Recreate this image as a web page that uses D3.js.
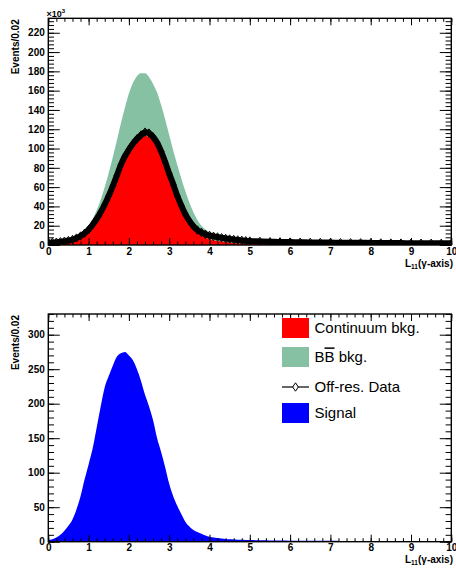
<!DOCTYPE html>
<html>
<head>
<meta charset="utf-8">
<script src="https://cdn.jsdelivr.net/npm/d3@7/dist/d3.min.js"></script>
<style>
body { margin: 0; background: #fff; }
text { font-family: "Liberation Sans", Arial, sans-serif; }
</style>
</head>
<body>
<svg id="chart" width="456" height="569"></svg>
<script>
// bin positions of the L11 variable (sampled from the plot)
var xBins = [0,0.1,0.2,0.3,0.4,0.5,0.6,0.7,0.8,0.9,
  1.0,1.1,1.2,1.3,1.4,1.5,1.6,1.7,1.8,1.9,
  2.0,2.1,2.2,2.3,2.4,2.5,2.6,2.7,2.8,2.9,
  3.0,3.1,3.2,3.3,3.4,3.5,3.6,3.7,3.8,3.9,
  4.0,4.1,4.2,4.3,4.4,4.5,4.6,4.7,4.8,4.9,
  5.0,5.25,5.5,5.75,6.0,6.25,6.5,6.75,7.0,7.25,
  7.5,7.75,8.0,8.25,8.5,8.75,9.0,9.25,9.5,9.75,10.0];

// top panel, in units of 10^3 events / 0.02
var bbStack = [2.5,2.7,3.0,3.4,4.0,4.8,6.0,7.8,10.5,14.5,
  20,27,36,47,60,75,91,108,126,142,
  157,168,175,178,178,174,167,158,145,130,
  114,98,83,69,56,44,34,26,20,16,
  13,11,9.5,8.3,7.3,6.5,5.9,5.4,5.0,4.6,
  4.3,3.8,3.4,3.1,2.9,2.75,2.6,2.5,2.4,2.3,
  2.2,2.15,2.1,2.05,2.0,1.95,1.9,1.85,1.8,1.75,1.7];
var continuum = [0.5,0.6,0.8,1.0,1.4,2.0,3.0,4.5,6.5,9.5,
  13.5,18.5,24.5,31.5,39.5,48.5,58.5,69,80,89,
  96,102,107,111,113,112,108.5,102,93,82,
  70,59,47.5,37.5,29,22,16.5,12.5,9.5,7.5,
  6,5,4.2,3.5,3,2.5,2.1,1.8,1.5,1.3,
  1.1,0.9,0.7,0.6,0.5,0.45,0.4,0.35,0.3,0.28,
  0.25,0.22,0.2,0.2,0.2,0.18,0.15,0.13,0.1,0.1,0.1];
var offRes = [2.4,2.6,2.9,3.3,3.9,4.6,5.6,7.2,9.3,12.2,
  16,21,27,34,42,51,61,72,83,92,
  99,105,110,114,117,116,112,106,97,86,
  74,63,51,41,32,25,19.5,15.5,13,11,
  10,9,8.3,7.5,6.8,6.2,5.7,5.2,4.8,4.4,
  4.1,3.7,3.4,3.2,3.0,2.85,2.7,2.6,2.5,2.4,
  2.3,2.25,2.2,2.1,2.0,1.95,1.9,1.85,1.8,1.75,1.7];

// bottom panel, events / 0.02
var signal = [2,3.5,6,10,16,23,32,47,66,90,
  112,135,165,196,224,240,255,268,273,275,
  270,263,250,233,213,196,176,150,130,108,
  84,66,52,40,29,22,17,14,11.5,9,
  7.3,6.2,5.3,4.6,4.0,3.6,3.3,3.0,2.8,2.6,
  2.4,2.1,1.8,1.65,1.5,1.4,1.3,1.25,1.2,1.15,
  1.1,1.05,1.0,0.95,0.9,0.85,0.8,0.75,0.7,0.65,0.6];

var xTicks = [0,1,2,3,4,5,6,7,8,9,10];
var topYTicks = [0,20,40,60,80,100,120,140,160,180,200,220];
var botYTicks = [0,50,100,150,200,250,300];
var legendLabels = ["Continuum bkg.", "BB bkg.", "Off-res. Data", "Signal"];

var colRed = "#ff0000", colGreen = "#86c1a4", colBlue = "#0000ff";
var font = '"Liberation Sans", Arial, sans-serif';

var svg = d3.select("#chart");

var x = d3.scaleLinear().domain([0, 10]).range([48.3, 451.3]);

function drawPanel(id, top, bottom, ymax, yMajor, yMinorStep) {
    var y = d3.scaleLinear().domain([0, ymax]).range([bottom, top]);
    var g = svg.append("g").attr("id", id);

    g.append("clipPath").attr("id", "clip_" + id)
      .append("rect")
      .attr("x", x(0)).attr("y", top)
      .attr("width", x(10) - x(0)).attr("height", bottom - top);

    var plot = g.append("g").attr("clip-path", "url(#clip_" + id + ")");

    // ticks on all four sides, pointing inward
    var xMinor = d3.range(0, 10.001, 0.2);
    var yMinor = d3.range(0, ymax + 0.001, yMinorStep);

    g.append("g").attr("transform", "translate(0," + bottom + ")")
      .call(d3.axisBottom(x).tickValues(xMinor).tickSize(-3.5).tickFormat(""));
    var xa = g.append("g").attr("transform", "translate(0," + bottom + ")")
      .call(d3.axisBottom(x).tickValues(xTicks).tickSize(-7).tickPadding(2.4).tickFormat(d3.format("d")));
    g.append("g").attr("transform", "translate(0," + top + ")")
      .call(d3.axisTop(x).tickValues(xMinor).tickSize(-3.5).tickFormat(""));
    g.append("g").attr("transform", "translate(0," + top + ")")
      .call(d3.axisTop(x).tickValues(xTicks).tickSize(-7).tickFormat(""));

    g.append("g").attr("transform", "translate(" + x(0) + ",0)")
      .call(d3.axisLeft(y).tickValues(yMinor).tickSize(-5.7).tickFormat(""));
    var ya = g.append("g").attr("transform", "translate(" + x(0) + ",0)")
      .call(d3.axisLeft(y).tickValues(yMajor).tickSize(-11.5).tickPadding(3.5).tickFormat(d3.format("d")));
    g.append("g").attr("transform", "translate(" + x(10) + ",0)")
      .call(d3.axisRight(y).tickValues(yMinor).tickSize(-5.7).tickFormat(""));
    g.append("g").attr("transform", "translate(" + x(10) + ",0)")
      .call(d3.axisRight(y).tickValues(yMajor).tickSize(-11.5).tickFormat(""));

    g.selectAll(".domain").remove();
    g.selectAll(".tick line").attr("stroke", "#000").attr("stroke-width", 1);
    [xa, ya].forEach(function(a) {
        a.selectAll("text")
          .attr("fill", "#000")
          .attr("font-family", font)
          .attr("font-size", 10)
          .attr("font-weight", "bold");
    });

    // frame
    g.append("rect")
      .attr("x", x(0)).attr("y", top)
      .attr("width", x(10) - x(0)).attr("height", bottom - top)
      .attr("fill", "none").attr("stroke", "#000").attr("stroke-width", 1.4);

    // axis titles
    g.append("text")
      .attr("transform", "translate(19," + (top + 1) + ") rotate(-90)")
      .attr("text-anchor", "end")
      .attr("font-size", 10).attr("font-weight", "bold")
      .text("Events/0.02");

    var xt = g.append("text")
      .attr("x", 453).attr("y", bottom + 21.5)
      .attr("text-anchor", "end")
      .attr("font-size", 10).attr("font-weight", "bold");
    xt.append("tspan").text("L");
    xt.append("tspan").attr("font-size", 6.5).attr("dy", 2).text("11");
    xt.append("tspan").attr("dy", -2).text("(\u03b3-axis)");

    return {g: g, plot: plot, y: y};
}

// ---- top panel: backgrounds + off-resonance data
var topP = drawPanel("top", 18.3, 245, 235, topYTicks, 4);

function areaFor(y, vals) {
    return d3.area()
      .curve(d3.curveMonotoneX)
      .x(function(d, i) { return x(xBins[i]); })
      .y0(y(0))
      .y1(function(d, i) { return y(vals[i]); });
}

topP.plot.insert("path", ":first-child")
  .datum(bbStack)
  .attr("d", areaFor(topP.y, bbStack))
  .attr("fill", colGreen);
topP.plot.append("path")
  .datum(continuum)
  .attr("d", areaFor(topP.y, continuum))
  .attr("fill", colRed);

var dataLine = d3.line()
  .curve(d3.curveMonotoneX)
  .x(function(d, i) { return x(xBins[i]); })
  .y(function(d) { return topP.y(d); });

topP.plot.append("path")
  .datum(offRes)
  .attr("d", dataLine)
  .attr("fill", "none")
  .attr("stroke", "#000")
  .attr("stroke-width", 6);

var diamond = "M0,-4.2L2.8,0L0,4.2L-2.8,0Z";
topP.plot.selectAll(".pt")
  .data(offRes)
  .enter().append("path")
  .attr("class", "pt")
  .attr("d", diamond)
  .attr("transform", function(d, i) { return "translate(" + x(xBins[i]) + "," + topP.y(d) + ")"; })
  .attr("fill", "none")
  .attr("stroke", "#000")
  .attr("stroke-width", 1);

// x10^3 exponent label
var ex = topP.g.append("text")
  .attr("x", 46.5).attr("y", 16.5)
  .attr("font-size", 9).attr("font-weight", "bold");
ex.append("tspan").text("\u00d710");
ex.append("tspan").attr("font-size", 6).attr("dy", -4).text("3");

// ---- bottom panel: signal
var botP = drawPanel("bottom", 314, 541.7, 330, botYTicks, 10);

botP.plot.insert("path", ":first-child")
  .datum(signal)
  .attr("d", areaFor(botP.y, signal))
  .attr("fill", colBlue);

// legend
var legendY = [328, 357, 387, 413];
var leg = botP.g.append("g");
leg.selectAll("rect")
  .data([0, 1, 3])
  .enter().append("rect")
  .attr("x", 282).attr("width", 27)
  .attr("y", function(d) { return legendY[d] - 10; })
  .attr("height", 20)
  .attr("fill", function(d) { return [colRed, colGreen, null, colBlue][d]; });

leg.append("line")
  .attr("x1", 282).attr("x2", 309)
  .attr("y1", legendY[2]).attr("y2", legendY[2])
  .attr("stroke", "#000").attr("stroke-width", 1.2);
leg.append("path")
  .attr("d", diamond)
  .attr("transform", "translate(295.5," + legendY[2] + ")")
  .attr("fill", "#fff").attr("stroke", "#000").attr("stroke-width", 1);

leg.selectAll("text")
  .data(legendLabels)
  .enter().append("text")
  .attr("x", 314.5)
  .attr("y", function(d, i) { return legendY[i] + 5.4; })
  .attr("font-size", 15)
  .each(function(d, i) {
      var t = d3.select(this);
      if (i == 1) {
          // B B-bar
          t.append("tspan").text("B");
          t.append("tspan").attr("text-decoration", "overline").style("text-decoration", "overline").text("B");
          t.append("tspan").text(" bkg.");
      } else {
          t.text(d);
      }
  });
</script>
</body>
</html>
